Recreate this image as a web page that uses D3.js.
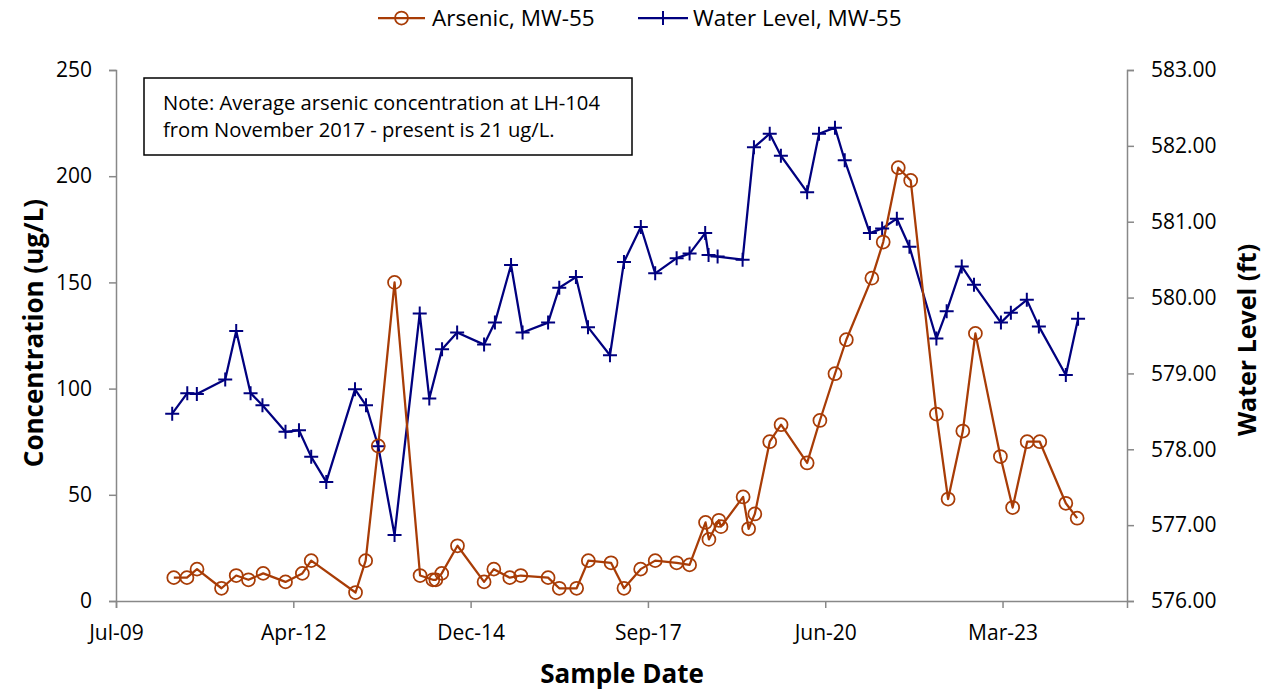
<!DOCTYPE html>
<html><head><meta charset="utf-8">
<script src="https://cdn.jsdelivr.net/npm/d3@7"></script>
<style>
html,body{margin:0;padding:0;background:#fff;}
svg{display:block;font-family:"Open Sans",sans-serif;}
</style></head>
<body>
<svg id="chart" width="1264" height="694"></svg>
<script>
// ---- data ----
const arsenicDates = ["2010-05-28","2010-08-10","2010-10-06","2011-02-21","2011-05-15","2011-07-23","2011-10-14","2012-02-17","2012-05-22","2012-07-11",
"2013-03-18","2013-05-14","2013-07-24","2013-10-24","2014-03-17","2014-05-28","2014-06-14","2014-07-17","2014-10-14","2015-03-13",
"2015-05-07","2015-08-05","2015-10-06","2016-03-08","2016-05-10","2016-08-16","2016-10-21","2017-02-26","2017-05-10","2017-08-12",
"2017-11-02","2018-03-03","2018-05-15","2018-08-13","2018-09-01","2018-10-27","2018-11-08","2019-03-13","2019-04-13","2019-05-18",
"2019-08-10","2019-10-13","2020-03-08","2020-05-19","2020-08-12","2020-10-15","2021-03-08","2021-05-11","2021-08-04","2021-10-13",
"2022-03-07","2022-05-12","2022-08-03","2022-10-13","2023-03-03","2023-05-11","2023-08-01","2023-10-11","2024-03-06","2024-05-09"];
const arsenicValues = [11,11,15,6,12,10,13,9,13,19,
4,19,73,150,12,10,10,13,26,9,
15,11,12,11,6,6,19,18,6,15,
19,18,17,37,29,38,35,49,34,41,
75,83,65,85,107,123,152,169,204,198,
88,48,80,126,68,44,75,75,46,39];
const waterDates = ["2010-05-19","2010-08-12","2010-10-05","2011-03-14","2011-05-15","2011-08-04","2011-10-10","2012-02-17","2012-05-03","2012-07-11",
"2012-10-04","2013-03-15","2013-05-16","2013-07-24","2013-10-24","2014-03-15","2014-05-08","2014-07-19","2014-10-12","2015-03-13",
"2015-05-13","2015-08-12","2015-10-16","2016-03-08","2016-05-10","2016-08-12","2016-10-19","2017-02-20","2017-05-10","2017-08-13",
"2017-11-02","2018-03-03","2018-05-15","2018-08-11","2018-08-30","2018-10-20","2019-03-10","2019-05-13","2019-08-10","2019-10-12",
"2020-03-08","2020-05-14","2020-08-12","2020-10-06","2021-02-25","2021-05-05","2021-07-27","2021-10-06","2022-03-07","2022-05-04",
"2022-07-28","2022-10-05","2023-03-06","2023-05-01","2023-07-30","2023-10-06","2024-03-06","2024-05-14"];
const waterValues = [578.47,578.74,578.73,578.92,579.56,578.74,578.58,578.23,578.25,577.90,
577.57,578.79,578.58,578.04,576.87,579.79,578.67,579.32,579.54,579.38,
579.67,580.43,579.54,579.67,580.13,580.27,579.61,579.24,580.47,580.93,
580.32,580.52,580.58,580.85,580.56,580.54,580.50,581.98,582.16,581.87,
581.39,582.16,582.24,581.81,580.85,580.91,581.04,580.67,579.46,579.82,
580.41,580.17,579.67,579.80,579.97,579.62,578.98,579.72];
const xTickDates = ["2009-07-06","2012-04-01","2014-12-27","2017-09-22","2020-06-18","2023-03-15"];
const xDomainDates = ["2009-07-06","2025-02-14"];
const leftTicks = [0,50,100,150,200,250];
const rightTicks = [576,577,578,579,580,581,582,583];
const seriesNames = ["Arsenic, MW-55","Water Level, MW-55"];
const noteLines = ["Note: Average arsenic concentration at LH-104","from November 2017 - present is 21 ug/L."];

// ---- layout ----
const parse = d3.utcParse("%Y-%m-%d");
const M = {left:116, right:1127, top:70, bottom:601};
const cAs = "#a83c06", cWL = "#00007f", axisCol = "#888888";
const svg = d3.select("#chart");

const x = d3.scaleUtc().domain(xDomainDates.map(parse)).range([M.left, M.right]);
const yL = d3.scaleLinear().domain([0,250]).range([M.bottom, M.top]);
const yR = d3.scaleLinear().domain([576,583]).range([M.bottom, M.top]);

function styleAxis(g){
  g.selectAll("path.domain").attr("stroke", axisCol).attr("stroke-width", 1.5);
  g.selectAll(".tick line").attr("stroke", axisCol).attr("stroke-width", 1.5);
  g.selectAll(".tick text").attr("fill","#000").attr("font-size", 21).attr("font-family","Open Sans, sans-serif");
}

const gx = svg.append("g").attr("transform",`translate(0,${M.bottom})`)
  .call(d3.axisBottom(x).tickValues(xTickDates.map(parse)).tickFormat(d3.utcFormat("%b-%y")).tickSizeOuter(0).tickSize(7).tickPadding(17));
styleAxis(gx);
const gl = svg.append("g").attr("transform",`translate(${M.left},0)`)
  .call(d3.axisLeft(yL).tickValues(leftTicks).tickSizeOuter(0).tickSize(7).tickPadding(17));
styleAxis(gl);
const gr = svg.append("g").attr("transform",`translate(${M.right},0)`)
  .call(d3.axisRight(yR).tickValues(rightTicks).tickFormat(d3.format(".2f")).tickSizeOuter(0).tickSize(7).tickPadding(17));
styleAxis(gr);

// axis titles
svg.append("text").attr("transform",`translate(43,333) rotate(-90)`).attr("text-anchor","middle")
  .attr("font-size",26).attr("font-weight","bold").text("Concentration (ug/L)");
svg.append("text").attr("transform",`translate(1256,340) rotate(-90)`).attr("text-anchor","middle")
  .attr("font-size",25).attr("font-weight","bold").text("Water Level (ft)");
svg.append("text").attr("x",622).attr("y",683).attr("text-anchor","middle")
  .attr("font-size",26).attr("font-weight","bold").text("Sample Date");

// note box
svg.append("rect").attr("x",144).attr("y",78).attr("width",488).attr("height",77)
  .attr("fill","#fff").attr("stroke","#000").attr("stroke-width",1.5);
svg.append("g").selectAll("text").data(noteLines).join("text")
  .attr("x",163).attr("y",(d,i)=>110+i*27).attr("font-size",20.2).text(d=>d);

// series
const asData = arsenicDates.map((d,i)=>({d:parse(d), v:arsenicValues[i]}));
const wlData = waterDates.map((d,i)=>({d:parse(d), v:waterValues[i]}));

svg.append("path").datum(wlData).attr("fill","none").attr("stroke",cWL).attr("stroke-width",2.25)
  .attr("stroke-linejoin","round").attr("d", d3.line().x(p=>x(p.d)).y(p=>yR(p.v)));
svg.append("path").datum(asData).attr("fill","none").attr("stroke",cAs).attr("stroke-width",2.25)
  .attr("stroke-linejoin","round").attr("d", d3.line().x(p=>x(p.d)).y(p=>yL(p.v)));

const plus = 7;
function plusPath(cx,cy){return `M${cx-plus},${cy}H${cx+plus}M${cx},${cy-plus}V${cy+plus}`;}
svg.append("g").selectAll("path").data(wlData).join("path")
  .attr("d",p=>plusPath(x(p.d),yR(p.v))).attr("stroke",cWL).attr("stroke-width",2);
svg.append("g").selectAll("circle").data(asData).join("circle")
  .attr("cx",p=>x(p.d)).attr("cy",p=>yL(p.v)).attr("r",6.5)
  .attr("fill","none").attr("stroke",cAs).attr("stroke-width",1.75);

// legend
const lg = svg.append("g");
lg.append("line").attr("x1",378).attr("x2",425).attr("y1",18).attr("y2",18).attr("stroke",cAs).attr("stroke-width",2.25);
lg.append("circle").attr("cx",401.5).attr("cy",18).attr("r",6.5).attr("fill","none").attr("stroke",cAs).attr("stroke-width",1.75);
lg.append("text").attr("x",432).attr("y",26).attr("font-size",22.5).text(seriesNames[0]);
lg.append("line").attr("x1",638).attr("x2",688).attr("y1",18).attr("y2",18).attr("stroke",cWL).attr("stroke-width",2.25);
lg.append("path").attr("d",plusPath(663,18)).attr("stroke",cWL).attr("stroke-width",2);
lg.append("text").attr("x",693).attr("y",26).attr("font-size",22.5).text(seriesNames[1]);
</script>
</body></html>
